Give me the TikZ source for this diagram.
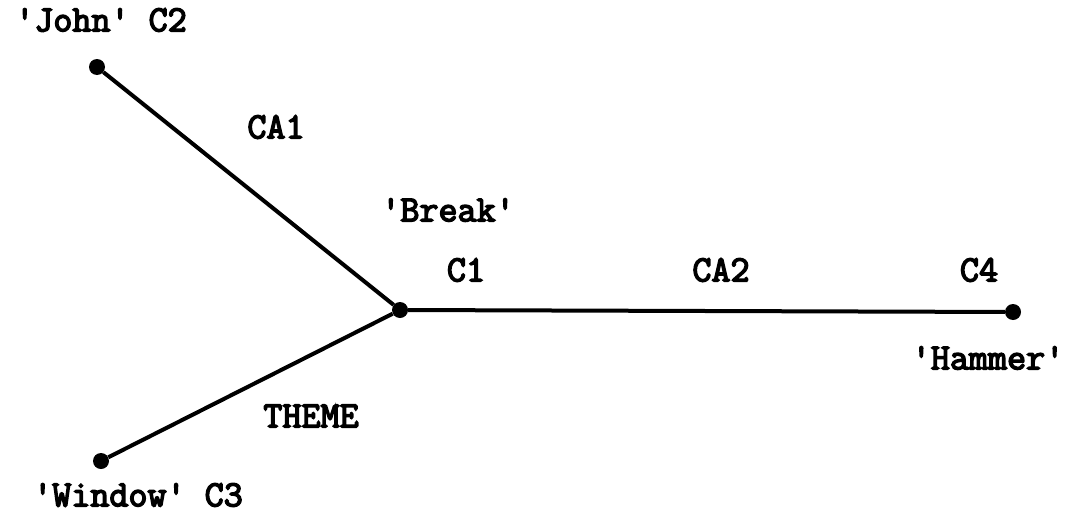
\documentclass[tikz,border=0pt]{standalone}
\usepackage{fontspec}
\setmonofont{Latin Modern Mono}[BoldFont=*,BoldFeatures={FakeBold=4}]
\begin{document}
\begin{tikzpicture}[x=1pt,y=-1pt,
  dot/.style={circle,fill=black,inner sep=0pt,minimum size=16pt},
  lbl/.style={font=\ttfamily\bfseries\fontsize{37}{40}\selectfont,inner sep=0pt,anchor=center},
  edge/.style={line width=4pt}]
\useasboundingbox (0,0) rectangle (1067,514);
\node[dot] (john) at (97,67) {};
\node[dot] (c1) at (400,310) {};
\node[dot] (win) at (101,461) {};
\node[dot] (ham) at (1013,312) {};
\draw[edge] (john) -- (c1);
\draw[edge] (win) -- (c1);
\draw[edge] (c1) -- (ham);
\node[lbl] (tjohn) at (101,20) {'John' C2};
\node[lbl] (tca1) at (276,127) {CA1};
\node[lbl] (tbreak) at (448,210) {'Break'};
\node[lbl] (tc1) at (466,270) {C1};
\node[lbl] (tca2) at (721,270) {CA2};
\node[lbl] (tc4) at (979,270) {C4};
\node[lbl] (tham) at (988,358) {'Hammer'};
\node[lbl] (ttheme) at (311,416) {THEME};
\node[lbl] (twin) at (138,495) {'Window' C3};
\end{tikzpicture}
\end{document}
